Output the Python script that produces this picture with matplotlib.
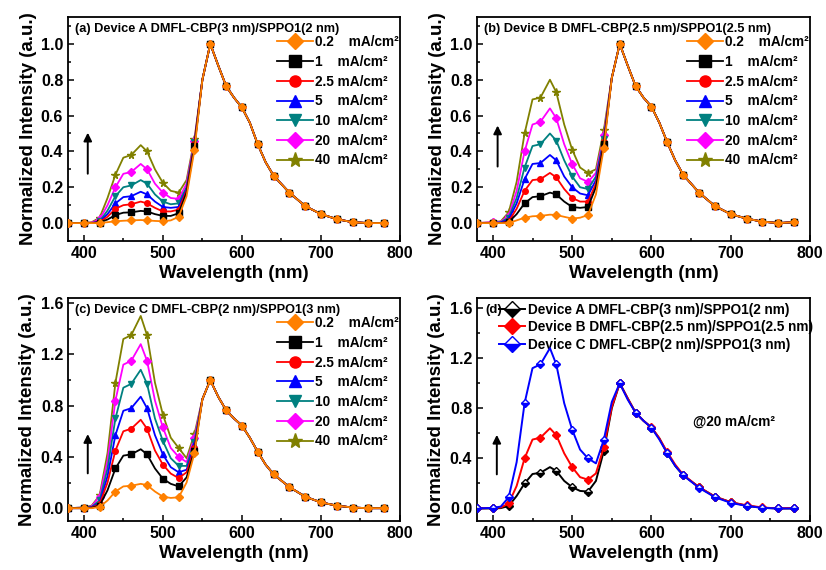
import matplotlib
matplotlib.use("Agg")
import matplotlib.pyplot as plt
from matplotlib.ticker import MultipleLocator

plt.rcParams['font.family'] = ['Liberation Sans', 'DejaVu Sans']
plt.rcParams['font.weight'] = 'bold'
plt.rcParams['axes.labelweight'] = 'bold'

# wavelength grid (nm): blue/green part read per series, long-wavelength tail shared per panel
wl_blue = [380, 400, 410, 420, 430, 440, 450, 460, 472, 480, 490, 500, 510, 520, 530, 540]
wl_tail = [550, 560, 570, 580, 590, 600, 610, 620, 630, 640, 660, 680, 700, 720, 740, 760, 780]

currents = ["0.2    mA/cm²", "1    mA/cm²", "2.5 mA/cm²", "5    mA/cm²",
            "10  mA/cm²", "20  mA/cm²", "40  mA/cm²"]
colors = ['#FF8000', '#000000', '#FF0000', '#0000FF', '#008080', '#FF00FF', '#808000']
markers = ['D', 's', 'o', '^', 'v', 'D', '*']

# Device A, DMFL-CBP(3 nm)/SPPO1(2 nm)
a_blue = [
    [0, 0, 0, 0, 0.005, 0.01, 0.013, 0.015, 0.017, 0.015, 0.012, 0.01, 0.015, 0.035, 0.15, 0.41],
    [0, 0, 0, 0.003, 0.02, 0.045, 0.058, 0.06, 0.068, 0.065, 0.05, 0.04, 0.04, 0.055, 0.17, 0.43],
    [0, 0, 0, 0.005, 0.035, 0.08, 0.10, 0.105, 0.12, 0.11, 0.085, 0.065, 0.065, 0.075, 0.18, 0.44],
    [0, 0, 0, 0.008, 0.05, 0.11, 0.145, 0.15, 0.175, 0.16, 0.12, 0.09, 0.085, 0.09, 0.19, 0.44],
    [0, 0, 0, 0.01, 0.07, 0.15, 0.20, 0.21, 0.24, 0.22, 0.16, 0.12, 0.105, 0.11, 0.20, 0.45],
    [0, 0, 0.003, 0.02, 0.10, 0.20, 0.275, 0.285, 0.33, 0.30, 0.22, 0.17, 0.14, 0.135, 0.22, 0.46],
    [0, 0, 0.005, 0.03, 0.14, 0.27, 0.365, 0.38, 0.435, 0.40, 0.30, 0.225, 0.18, 0.17, 0.24, 0.47],
]
a_tail = [0.80, 1.0, 0.88, 0.765, 0.70, 0.645, 0.56, 0.44, 0.34, 0.265, 0.17, 0.095, 0.05, 0.022, 0.005, 0.0, 0.0]

# Device B, DMFL-CBP(2.5 nm)/SPPO1(2.5 nm)
b_blue = [
    [0, 0, 0, 0, 0.015, 0.03, 0.038, 0.04, 0.047, 0.045, 0.035, 0.025, 0.03, 0.045, 0.16, 0.42],
    [0, 0, 0, 0.005, 0.05, 0.11, 0.145, 0.15, 0.17, 0.16, 0.12, 0.09, 0.085, 0.09, 0.20, 0.44],
    [0, 0, 0, 0.01, 0.08, 0.18, 0.24, 0.245, 0.28, 0.255, 0.19, 0.14, 0.12, 0.12, 0.22, 0.45],
    [0, 0, 0.003, 0.02, 0.11, 0.245, 0.33, 0.335, 0.38, 0.35, 0.26, 0.20, 0.165, 0.155, 0.24, 0.46],
    [0, 0, 0.005, 0.03, 0.14, 0.31, 0.43, 0.44, 0.50, 0.46, 0.35, 0.26, 0.20, 0.19, 0.26, 0.47],
    [0, 0.005, 0.008, 0.04, 0.18, 0.40, 0.55, 0.565, 0.64, 0.585, 0.44, 0.33, 0.25, 0.23, 0.28, 0.49],
    [0, 0.005, 0.01, 0.06, 0.23, 0.50, 0.69, 0.70, 0.80, 0.73, 0.55, 0.41, 0.31, 0.28, 0.30, 0.52],
]
b_tail = [0.81, 1.0, 0.88, 0.765, 0.70, 0.65, 0.56, 0.45, 0.35, 0.27, 0.17, 0.095, 0.05, 0.025, 0.008, 0.0, 0.005]

# Device C, DMFL-CBP(2 nm)/SPPO1(3 nm)
c_blue = [
    [0, 0, 0, 0.01, 0.06, 0.13, 0.17, 0.175, 0.19, 0.18, 0.13, 0.09, 0.08, 0.085, 0.20, 0.43],
    [0, 0, 0.003, 0.02, 0.14, 0.31, 0.41, 0.42, 0.46, 0.42, 0.31, 0.23, 0.19, 0.17, 0.24, 0.45],
    [0, 0, 0.005, 0.03, 0.20, 0.45, 0.60, 0.62, 0.69, 0.62, 0.45, 0.34, 0.27, 0.235, 0.28, 0.47],
    [0, 0, 0.008, 0.04, 0.25, 0.57, 0.76, 0.78, 0.87, 0.78, 0.57, 0.42, 0.32, 0.28, 0.30, 0.49],
    [0, 0.005, 0.01, 0.06, 0.31, 0.70, 0.94, 0.97, 1.08, 0.97, 0.70, 0.525, 0.39, 0.33, 0.33, 0.52],
    [0, 0.005, 0.015, 0.09, 0.37, 0.84, 1.12, 1.15, 1.28, 1.15, 0.84, 0.63, 0.47, 0.40, 0.36, 0.55],
    [0, 0.005, 0.02, 0.10, 0.43, 0.98, 1.32, 1.35, 1.50, 1.35, 0.98, 0.73, 0.55, 0.47, 0.39, 0.58],
]
c_tail = [0.85, 1.0, 0.87, 0.765, 0.70, 0.645, 0.55, 0.44, 0.34, 0.265, 0.165, 0.09, 0.045, 0.02, 0.005, 0.0, 0.0]

titles = ["(a) Device A DMFL-CBP(3 nm)/SPPO1(2 nm)",
          "(b) Device B DMFL-CBP(2.5 nm)/SPPO1(2.5 nm)",
          "(c) Device C DMFL-CBP(2 nm)/SPPO1(3 nm)"]
device_labels = ["Device A DMFL-CBP(3 nm)/SPPO1(2 nm)",
                 "Device B DMFL-CBP(2.5 nm)/SPPO1(2.5 nm)",
                 "Device C DMFL-CBP(2 nm)/SPPO1(3 nm)"]

wl = wl_blue + wl_tail
marks = [i for i, w in enumerate(wl) if w % 20 == 0]


def style_axes(ax, ytop, ymajor):
    ax.set_xlim(380, 800)
    ax.set_ylim(-0.1, ytop)
    ax.xaxis.set_major_locator(MultipleLocator(100))
    ax.xaxis.set_minor_locator(MultipleLocator(50))
    ax.yaxis.set_major_locator(MultipleLocator(ymajor))
    ax.yaxis.set_minor_locator(MultipleLocator(ymajor / 2))
    ax.yaxis.set_major_formatter(lambda v, p: f"{v:.1f}")
    ax.tick_params(which='both', direction='in', labelsize=11.5, width=1.1)
    ax.tick_params(which='major', length=4.5)
    ax.tick_params(which='minor', length=2.5)
    for s in ax.spines.values():
        s.set_linewidth(1.3)
    ax.set_xlabel("Wavelength (nm)", fontsize=13.5, labelpad=3)
    ax.set_ylabel("Normalized Intensity (a.u.)", fontsize=13.5, labelpad=3)


def current_panel(ax, blue, tail, title, ytop, ymajor, legend_y, arrow):
    handles = []
    for k in range(len(blue)):
        line, = ax.plot(wl, blue[k] + tail, color=colors[k], marker=markers[k],
                        markevery=marks, markersize=4 if markers[k] != '*' else 5.5,
                        lw=1.3, zorder=10 - k)
        handles.append(line)
    style_axes(ax, ytop, ymajor)
    ax.text(0.022, 0.948, title, transform=ax.transAxes, fontsize=9.2,
            fontweight='bold', va='center', ha='left')
    ax.legend(handles, currents, loc='upper right', bbox_to_anchor=(1.0, legend_y),
              frameon=False, fontsize=9.8, handlelength=2.6, handletextpad=0.15,
              labelspacing=0.42, markerscale=2.0, borderaxespad=0, borderpad=0.1)
    ax.annotate('', xy=(arrow[0], arrow[2]), xytext=(arrow[0], arrow[1]),
                arrowprops=dict(arrowstyle='-|>', color='k', lw=1.4,
                                mutation_scale=12))


W, H = 826, 570
fig = plt.figure(figsize=(W / 100, H / 100), dpi=100)


def px_axes(x0, y0, x1, y1):
    return fig.add_axes([x0 / W, 1 - y1 / H, (x1 - x0) / W, (y1 - y0) / H])


ax_a = px_axes(68, 17, 400, 241)
ax_b = px_axes(477, 17, 810, 241)
ax_c = px_axes(68, 298, 400, 521)
ax_d = px_axes(477, 298, 810, 521)

current_panel(ax_a, a_blue, a_tail, titles[0], 1.15, 0.2, 0.925, (405, 0.26, 0.52))
current_panel(ax_b, b_blue, b_tail, titles[1], 1.15, 0.2, 0.925, (406, 0.30, 0.56))
current_panel(ax_c, c_blue, c_tail, titles[2], 1.64, 0.4, 0.925, (405, 0.25, 0.60))

# (d): the 20 mA/cm2 spectra of the three devices
d_series = [a_blue[5] + a_tail, b_blue[5] + b_tail, c_blue[5] + c_tail]
d_colors = ['#000000', '#FF0000', '#0000FF']
d_fill = ['bottom', 'full', 'bottom']
d_handles = []
for k in range(3):
    line, = ax_d.plot(wl, d_series[k], color=d_colors[k], marker='D', markevery=marks,
                      markersize=4.2, fillstyle=d_fill[k], markerfacecoloralt='white',
                      lw=1.4, zorder=5 + k)
    d_handles.append(line)
style_axes(ax_d, 1.68, 0.4)
ax_d.text(0.024, 0.946, "(d)", transform=ax_d.transAxes, fontsize=9.5,
          fontweight='bold', va='center', ha='left')
ax_d.legend(d_handles, device_labels, loc='upper left', bbox_to_anchor=(0.062, 0.985),
            frameon=False, fontsize=9.8, handlelength=1.9, handletextpad=0.25,
            labelspacing=0.25, markerscale=2.0, borderaxespad=0, borderpad=0.1)
ax_d.text(652, 0.69, "@20 mA/cm²", fontsize=9.8, fontweight='bold', va='center', ha='left')
ax_d.annotate('', xy=(405, 0.61), xytext=(405, 0.25),
              arrowprops=dict(arrowstyle='-|>', color='k', lw=1.4, mutation_scale=12))

fig.savefig("out.png", dpi=100)
